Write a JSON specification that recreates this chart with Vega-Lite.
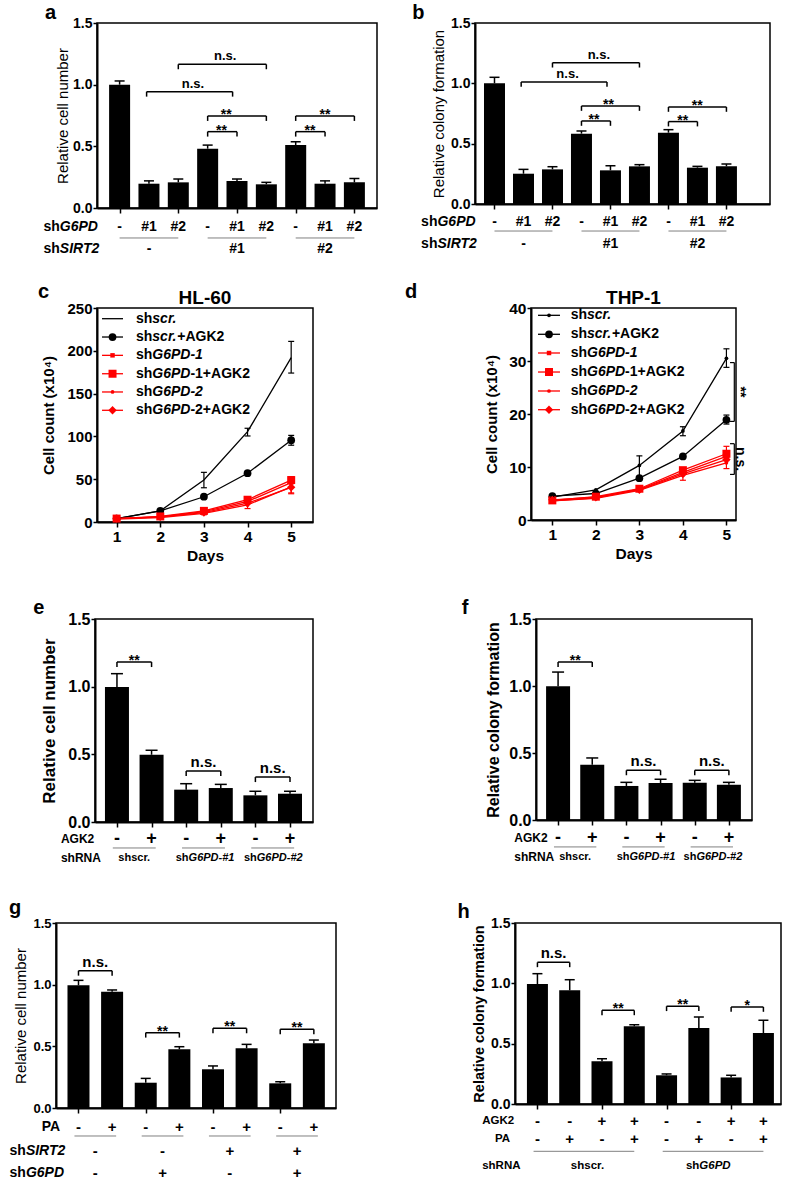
{
"$schema": "https://vega.github.io/schema/vega-lite/v6.json",
"padding": 0,
"autosize": {"type": "pad"},
"config": {
 "view": {"stroke": null},
 "font": "Liberation Sans",
 "axis": {"grid": false, "domainColor": "#000", "domainWidth": 2, "tickColor": "#000", "tickWidth": 1.5, "tickSize": 4, "labelColor": "#000", "labelFontWeight": "bold", "labelFont": "Liberation Sans", "labelPadding": 1, "labelFlush": false, "titleColor": "#000", "titleFont": "Liberation Sans"},
 "title": {"font": "Liberation Sans", "color": "#000"},
 "text": {"color": "#000"}
},
"datasets": {
 "a_bar": [{"x":1,"v":1.0,"hi":1.03},{"x":2,"v":0.197,"hi":0.22},{"x":3,"v":0.208,"hi":0.235},{"x":4,"v":0.481,"hi":0.51},{"x":5,"v":0.219,"hi":0.235},{"x":6,"v":0.192,"hi":0.208},{"x":7,"v":0.511,"hi":0.537},{"x":8,"v":0.197,"hi":0.22},{"x":9,"v":0.208,"hi":0.24}],
 "a_br": [{"x1":1.92,"x2":4.85,"xm":3.5,"y":0.943,"y0":0.903,"t":"n.s."},{"x1":3,"x2":6,"xm":4.6,"y":1.165,"y0":1.125,"t":"n.s."},{"x1":4,"x2":6,"xm":4.63,"y":0.746,"y0":0.706,"t":"**"},{"x1":4,"x2":5,"xm":4.47,"y":0.619,"y0":0.579,"t":"**"},{"x1":7,"x2":9,"xm":8,"y":0.746,"y0":0.706,"t":"**"},{"x1":7,"x2":8,"xm":7.49,"y":0.619,"y0":0.579,"t":"**"}],
 "a_ul": [{"x1":1,"x2":3,"y":-0.243},{"x1":4,"x2":6,"y":-0.243},{"x1":7,"x2":9,"y":-0.243}],
 "a_txt": [{"g":"sym","x":1,"y":-0.154,"t":"-"},{"g":"sym","x":2,"y":-0.154,"t":"#1"},{"g":"sym","x":3,"y":-0.154,"t":"#2"},{"g":"sym","x":4,"y":-0.154,"t":"-"},{"g":"sym","x":5,"y":-0.154,"t":"#1"},{"g":"sym","x":6,"y":-0.154,"t":"#2"},{"g":"sym","x":7,"y":-0.154,"t":"-"},{"g":"sym","x":8,"y":-0.154,"t":"#1"},{"g":"sym","x":9,"y":-0.154,"t":"#2"},{"g":"sym","x":2,"y":-0.333,"t":"-"},{"g":"sym","x":5,"y":-0.333,"t":"#1"},{"g":"sym","x":8,"y":-0.333,"t":"#2"},{"g":"sh","x":-1.036,"y":-0.154,"t":"sh"},{"g":"gene","x":-1.036,"y":-0.154,"t":"G6PD"},{"g":"sh","x":-1.036,"y":-0.333,"t":"sh"},{"g":"gene","x":-1.036,"y":-0.333,"t":"SIRT2"},{"g":"letter","x":-1.539,"y":1.532,"t":"a"}],
 "b_bar": [{"x":1,"v":1.0,"hi":1.05},{"x":2,"v":0.251,"hi":0.287},{"x":3,"v":0.287,"hi":0.309},{"x":4,"v":0.583,"hi":0.605},{"x":5,"v":0.279,"hi":0.317},{"x":6,"v":0.312,"hi":0.326},{"x":7,"v":0.591,"hi":0.616},{"x":8,"v":0.301,"hi":0.312},{"x":9,"v":0.312,"hi":0.331}],
 "b_br": [{"x1":1.92,"x2":4.88,"xm":3.52,"y":1.011,"y0":0.971,"t":"n.s."},{"x1":3,"x2":6,"xm":4.6,"y":1.171,"y0":1.131,"t":"n.s."},{"x1":4,"x2":6,"xm":4.93,"y":0.812,"y0":0.772,"t":"**"},{"x1":4,"x2":5,"xm":4.43,"y":0.688,"y0":0.648,"t":"**"},{"x1":7,"x2":9,"xm":7.99,"y":0.804,"y0":0.764,"t":"**"},{"x1":7,"x2":8,"xm":7.49,"y":0.683,"y0":0.643,"t":"**"}],
 "b_ul": [{"x1":1,"x2":3,"y":-0.224},{"x1":4,"x2":6,"y":-0.224},{"x1":7,"x2":9,"y":-0.224}],
 "b_txt": [{"g":"sym","x":1,"y":-0.147,"t":"-"},{"g":"sym","x":2,"y":-0.147,"t":"#1"},{"g":"sym","x":3,"y":-0.147,"t":"#2"},{"g":"sym","x":4,"y":-0.147,"t":"-"},{"g":"sym","x":5,"y":-0.147,"t":"#1"},{"g":"sym","x":6,"y":-0.147,"t":"#2"},{"g":"sym","x":7,"y":-0.147,"t":"-"},{"g":"sym","x":8,"y":-0.147,"t":"#1"},{"g":"sym","x":9,"y":-0.147,"t":"#2"},{"g":"sym","x":2,"y":-0.329,"t":"-"},{"g":"sym","x":5,"y":-0.329,"t":"#1"},{"g":"sym","x":8,"y":-0.329,"t":"#2"},{"g":"sh","x":-0.967,"y":-0.147,"t":"sh"},{"g":"gene","x":-0.967,"y":-0.147,"t":"G6PD"},{"g":"sh","x":-0.967,"y":-0.329,"t":"sh"},{"g":"gene","x":-0.967,"y":-0.329,"t":"SIRT2"},{"g":"letter","x":-1.833,"y":1.533,"t":"b"}],
 "c_ln": [{"s":"shscr.","day":1,"v":4},{"s":"shscr.","day":2,"v":13},{"s":"shscr.","day":3,"v":49,"lo":40,"hi":58},{"s":"shscr.","day":4,"v":105.5,"lo":100.5,"hi":109.5},{"s":"shscr.","day":5,"v":192,"lo":174,"hi":211},
  {"s":"shscr.+AGK2","day":1,"v":4},{"s":"shscr.+AGK2","day":2,"v":13},{"s":"shscr.+AGK2","day":3,"v":29.5},{"s":"shscr.+AGK2","day":4,"v":57},{"s":"shscr.+AGK2","day":5,"v":95.6,"lo":89.7,"hi":101.2},
  {"s":"shG6PD-1","day":1,"v":4},{"s":"shG6PD-1","day":2,"v":6},{"s":"shG6PD-1","day":3,"v":12},{"s":"shG6PD-1","day":4,"v":24},{"s":"shG6PD-1","day":5,"v":46},
  {"s":"shG6PD-1+AGK2","day":1,"v":4},{"s":"shG6PD-1+AGK2","day":2,"v":6.5},{"s":"shG6PD-1+AGK2","day":3,"v":13},{"s":"shG6PD-1+AGK2","day":4,"v":26},{"s":"shG6PD-1+AGK2","day":5,"v":49,"lo":45,"hi":53},
  {"s":"shG6PD-2","day":1,"v":3.5},{"s":"shG6PD-2","day":2,"v":5},{"s":"shG6PD-2","day":3,"v":10,"lo":8.5,"hi":11.5},{"s":"shG6PD-2","day":4,"v":20,"lo":15.7,"hi":24},{"s":"shG6PD-2","day":5,"v":41,"lo":34,"hi":47},
  {"s":"shG6PD-2+AGK2","day":1,"v":4},{"s":"shG6PD-2+AGK2","day":2,"v":6},{"s":"shG6PD-2+AGK2","day":3,"v":11},{"s":"shG6PD-2+AGK2","day":4,"v":22},{"s":"shG6PD-2+AGK2","day":5,"v":40.5,"lo":33,"hi":46}],
 "c_leg": [{"s":"shscr.","y":237.5,"ital":"scr.","post":""},{"s":"shscr.+AGK2","y":216.1,"ital":"scr.","post":"+AGK2"},{"s":"shG6PD-1","y":194.7,"ital":"G6PD-1","post":""},{"s":"shG6PD-1+AGK2","y":173.2,"ital":"G6PD","post":"-1+AGK2"},{"s":"shG6PD-2","y":151.9,"ital":"G6PD-2","post":""},{"s":"shG6PD-2+AGK2","y":130.5,"ital":"G6PD","post":"-2+AGK2"}],
 "c_lab": [{"x":-0.802,"y":261.7,"t":"c","k":"letter"},{"x":3.025,"y":261.7,"t":"HL-60","k":"title"}],
 "d_ln": [{"s":"shscr.","day":1,"v":4.3},{"s":"shscr.","day":2,"v":5.7},{"s":"shscr.","day":3,"v":10.3,"lo":8.1,"hi":12.1},{"s":"shscr.","day":4,"v":16.8,"lo":15.9,"hi":17.6},{"s":"shscr.","day":5,"v":30.5,"lo":28.8,"hi":32.3},
  {"s":"shscr.+AGK2","day":1,"v":4.5},{"s":"shscr.+AGK2","day":2,"v":5.0},{"s":"shscr.+AGK2","day":3,"v":7.9},{"s":"shscr.+AGK2","day":4,"v":12.0},{"s":"shscr.+AGK2","day":5,"v":18.9,"lo":18.1,"hi":19.8},
  {"s":"shG6PD-1","day":1,"v":3.6},{"s":"shG6PD-1","day":2,"v":4.2},{"s":"shG6PD-1","day":3,"v":5.8},{"s":"shG6PD-1","day":4,"v":9.0},{"s":"shG6PD-1","day":5,"v":12.0},
  {"s":"shG6PD-1+AGK2","day":1,"v":3.7},{"s":"shG6PD-1+AGK2","day":2,"v":4.4},{"s":"shG6PD-1+AGK2","day":3,"v":5.9},{"s":"shG6PD-1+AGK2","day":4,"v":9.4},{"s":"shG6PD-1+AGK2","day":5,"v":12.5,"lo":11.2,"hi":13.9},
  {"s":"shG6PD-2","day":1,"v":3.6},{"s":"shG6PD-2","day":2,"v":4.1},{"s":"shG6PD-2","day":3,"v":5.6},{"s":"shG6PD-2","day":4,"v":8.4,"lo":7.5,"hi":9.2},{"s":"shG6PD-2","day":5,"v":10.8,"lo":9.7,"hi":11.8},
  {"s":"shG6PD-2+AGK2","day":1,"v":3.8},{"s":"shG6PD-2+AGK2","day":2,"v":4.3},{"s":"shG6PD-2+AGK2","day":3,"v":5.7},{"s":"shG6PD-2+AGK2","day":4,"v":8.7},{"s":"shG6PD-2+AGK2","day":5,"v":11.4}],
 "d_leg": [{"s":"shscr.","y":38.62,"ital":"scr.","post":""},{"s":"shscr.+AGK2","y":35.04,"ital":"scr.","post":"+AGK2"},{"s":"shG6PD-1","y":31.51,"ital":"G6PD-1","post":""},{"s":"shG6PD-1+AGK2","y":27.92,"ital":"G6PD","post":"-1+AGK2"},{"s":"shG6PD-2","y":24.34,"ital":"G6PD-2","post":""},{"s":"shG6PD-2+AGK2","y":20.81,"ital":"G6PD","post":"-2+AGK2"}],
 "d_lab": [{"x":-2.385,"y":41.89,"t":"d","k":"letter"},{"x":2.865,"y":41.89,"t":"THP-1","k":"title"}],
 "d_sig": [{"x":5.181,"xl":5.083,"xt":5.31,"y1":29.7,"y2":18.6,"ym":24.15,"t":"**"},{"x":5.181,"xl":5.083,"xt":5.31,"y1":14.4,"y2":8.6,"ym":11.5,"t":"n.s."}],
 "e_bar": [{"x":1,"v":0.998,"hi":1.096},{"x":2,"v":0.497,"hi":0.53},{"x":3,"v":0.239,"hi":0.283},{"x":4,"v":0.251,"hi":0.278},{"x":5,"v":0.197,"hi":0.227},{"x":6,"v":0.209,"hi":0.227}],
 "e_br": [{"x1":1,"x2":2,"xm":1.5,"y":1.182,"y0":1.145,"t":"**"},{"x1":3,"x2":4,"xm":3.5,"y":0.377,"y0":0.34,"t":"n.s."},{"x1":5,"x2":6,"xm":5.5,"y":0.332,"y0":0.295,"t":"n.s."}],
 "e_ul": [{"x1":0.88,"x2":2.12,"y":-0.192},{"x1":2.88,"x2":4.12,"y":-0.192},{"x1":4.88,"x2":6.12,"y":-0.192}],
 "e_txt": [{"g":"sym","x":1,"y":-0.123,"t":"-"},{"g":"sym","x":2,"y":-0.123,"t":"+"},{"g":"sym","x":3,"y":-0.123,"t":"-"},{"g":"sym","x":4,"y":-0.123,"t":"+"},{"g":"sym","x":5,"y":-0.123,"t":"-"},{"g":"sym","x":6,"y":-0.123,"t":"+"},{"g":"name","x":-0.62,"y":-0.123,"t":"AGK2"},{"g":"name","x":-0.62,"y":-0.266,"t":"shRNA"},{"g":"grp","x":1.5,"y":-0.266,"t":"shscr."},{"g":"sh","x":3.07,"y":-0.266,"t":"sh"},{"g":"gene","x":3.07,"y":-0.266,"t":"G6PD-#1"},{"g":"sh","x":5.04,"y":-0.266,"t":"sh"},{"g":"gene","x":5.04,"y":-0.266,"t":"G6PD-#2"},{"g":"letter","x":-1.42,"y":1.537,"t":"e"}],
 "f_bar": [{"x":1,"v":0.998,"hi":1.104},{"x":2,"v":0.413,"hi":0.463},{"x":3,"v":0.254,"hi":0.281},{"x":4,"v":0.276,"hi":0.304},{"x":5,"v":0.278,"hi":0.296},{"x":6,"v":0.263,"hi":0.281}],
 "f_br": [{"x1":1,"x2":2,"xm":1.5,"y":1.179,"y0":1.142,"t":"**"},{"x1":3,"x2":4,"xm":3.5,"y":0.371,"y0":0.334,"t":"n.s."},{"x1":5,"x2":6,"xm":5.5,"y":0.371,"y0":0.334,"t":"n.s."}],
 "f_ul": [{"x1":0.88,"x2":2.12,"y":-0.201},{"x1":2.88,"x2":4.12,"y":-0.201},{"x1":4.88,"x2":6.12,"y":-0.201}],
 "f_txt": [{"g":"sym","x":1,"y":-0.134,"t":"-"},{"g":"sym","x":2,"y":-0.134,"t":"+"},{"g":"sym","x":3,"y":-0.134,"t":"-"},{"g":"sym","x":4,"y":-0.134,"t":"+"},{"g":"sym","x":5,"y":-0.134,"t":"-"},{"g":"sym","x":6,"y":-0.134,"t":"+"},{"g":"name","x":-0.282,"y":-0.134,"t":"AGK2"},{"g":"name","x":-0.282,"y":-0.276,"t":"shRNA"},{"g":"grp","x":1.5,"y":-0.276,"t":"shscr."},{"g":"sh","x":3.09,"y":-0.276,"t":"sh"},{"g":"gene","x":3.09,"y":-0.276,"t":"G6PD-#1"},{"g":"sh","x":5.05,"y":-0.276,"t":"sh"},{"g":"gene","x":5.05,"y":-0.276,"t":"G6PD-#2"},{"g":"letter","x":-1.817,"y":1.537,"t":"f"}],
 "g_bar": [{"x":1,"v":0.995,"hi":1.035},{"x":2,"v":0.943,"hi":0.957},{"x":3,"v":0.205,"hi":0.24},{"x":4,"v":0.476,"hi":0.497},{"x":5,"v":0.314,"hi":0.341},{"x":6,"v":0.484,"hi":0.516},{"x":7,"v":0.2,"hi":0.213},{"x":8,"v":0.525,"hi":0.551}],
 "g_br": [{"x1":1,"x2":2,"xm":1.5,"y":1.113,"y0":1.073,"t":"n.s."},{"x1":3,"x2":4,"xm":3.5,"y":0.611,"y0":0.571,"t":"**"},{"x1":5,"x2":6,"xm":5.5,"y":0.646,"y0":0.606,"t":"**"},{"x1":7,"x2":8,"xm":7.5,"y":0.638,"y0":0.598,"t":"**"}],
 "g_ul": [{"x1":0.88,"x2":2.12,"y":-0.227},{"x1":2.88,"x2":4.12,"y":-0.227},{"x1":4.88,"x2":6.12,"y":-0.227},{"x1":6.88,"x2":8.12,"y":-0.227}],
 "g_txt": [{"g":"sym","x":1,"y":-0.152,"t":"-"},{"g":"sym","x":2,"y":-0.152,"t":"+"},{"g":"sym","x":3,"y":-0.152,"t":"-"},{"g":"sym","x":4,"y":-0.152,"t":"+"},{"g":"sym","x":5,"y":-0.152,"t":"-"},{"g":"sym","x":6,"y":-0.152,"t":"+"},{"g":"sym","x":7,"y":-0.152,"t":"-"},{"g":"sym","x":8,"y":-0.152,"t":"+"},{"g":"sym","x":1.5,"y":-0.349,"t":"-"},{"g":"sym","x":3.5,"y":-0.349,"t":"-"},{"g":"sym","x":5.5,"y":-0.349,"t":"+"},{"g":"sym","x":7.5,"y":-0.349,"t":"+"},{"g":"sym","x":1.5,"y":-0.525,"t":"-"},{"g":"sym","x":3.5,"y":-0.525,"t":"+"},{"g":"sym","x":5.5,"y":-0.525,"t":"-"},{"g":"sym","x":7.5,"y":-0.525,"t":"+"},{"g":"name","x":-0.094,"y":-0.152,"t":"PA"},{"g":"sh","x":-0.564,"y":-0.349,"t":"sh"},{"g":"gene","x":-0.564,"y":-0.349,"t":"SIRT2"},{"g":"sh","x":-0.564,"y":-0.525,"t":"sh"},{"g":"gene","x":-0.564,"y":-0.525,"t":"G6PD"},{"g":"letter","x":-1.069,"y":1.573,"t":"g"}],
 "h_bar": [{"x":1,"v":0.994,"hi":1.08},{"x":2,"v":0.942,"hi":1.03},{"x":3,"v":0.354,"hi":0.375},{"x":4,"v":0.644,"hi":0.657},{"x":5,"v":0.238,"hi":0.249},{"x":6,"v":0.63,"hi":0.721},{"x":7,"v":0.22,"hi":0.238},{"x":8,"v":0.588,"hi":0.694}],
 "h_br": [{"x1":1,"x2":2,"xm":1.5,"y":1.174,"y0":1.134,"t":"n.s."},{"x1":3,"x2":4,"xm":3.5,"y":0.776,"y0":0.736,"t":"**"},{"x1":5,"x2":6,"xm":5.5,"y":0.81,"y0":0.77,"t":"**"},{"x1":7,"x2":8,"xm":7.5,"y":0.804,"y0":0.764,"t":"*"}],
 "h_ul": [{"x1":0.88,"x2":4.0,"y":-0.392},{"x1":4.88,"x2":8.0,"y":-0.392}],
 "h_txt": [{"g":"sym","x":1,"y":-0.143,"t":"-"},{"g":"sym","x":2,"y":-0.143,"t":"-"},{"g":"sym","x":3,"y":-0.143,"t":"+"},{"g":"sym","x":4,"y":-0.143,"t":"+"},{"g":"sym","x":5,"y":-0.143,"t":"-"},{"g":"sym","x":6,"y":-0.143,"t":"-"},{"g":"sym","x":7,"y":-0.143,"t":"+"},{"g":"sym","x":8,"y":-0.143,"t":"+"},{"g":"sym","x":1,"y":-0.29,"t":"-"},{"g":"sym","x":2,"y":-0.29,"t":"+"},{"g":"sym","x":3,"y":-0.29,"t":"-"},{"g":"sym","x":4,"y":-0.29,"t":"+"},{"g":"sym","x":5,"y":-0.29,"t":"-"},{"g":"sym","x":6,"y":-0.29,"t":"+"},{"g":"sym","x":7,"y":-0.29,"t":"-"},{"g":"sym","x":8,"y":-0.29,"t":"+"},{"g":"name","x":-0.712,"y":-0.143,"t":"AGK2"},{"g":"name","x":-0.315,"y":-0.29,"t":"PA"},{"g":"name","x":-0.712,"y":-0.516,"t":"shRNA"},{"g":"grp","x":2.55,"y":-0.516,"t":"shscr."},{"g":"sh","x":6.015,"y":-0.516,"t":"sh"},{"g":"gene","x":6.015,"y":-0.516,"t":"G6PD"},{"g":"letter","x":-1.478,"y":1.541,"t":"h"}]
},
"spacing": 0,
"bounds": "full",
"vconcat": [
 {"spacing": 0, "bounds": "flush", "hconcat": [
  {"width":97,"height":254,"data":{"values":[{}]},"mark":{"type":"point","size":0,"opacity":0},"encoding":{"y":{"datum":276,"type":"quantitative","scale":{"domain":[0,254],"nice":false},"axis":null}}},
  {"width":280,"height":185,"view":{"stroke":"#000","strokeWidth":1.5},"layer":[
   {"data":{"name":"a_bar"},"mark":{"type":"bar","width":21,"color":"#000"},"encoding":{"x":{"field":"x","type":"quantitative","scale":{"domain":[0.4,9.6],"nice":false,"zero":false},"axis":{"values":[1,2,3,4,5,6,7,8,9],"labels":false,"title":null,"tickSize":5}},"y":{"field":"v","type":"quantitative","scale":{"domain":[0,1.5],"nice":false},"axis":{"values":[0,0.5,1,1.5],"format":".1f","labelFontSize":14,"title":"Relative cell number","titleFontSize":15,"titleFontWeight":"normal","titlePadding":2}}}},
   {"data":{"name":"a_bar"},"mark":{"type":"rule","color":"#000","strokeWidth":1.5},"encoding":{"x":{"field":"x","type":"quantitative"},"y":{"field":"v","type":"quantitative"},"y2":{"field":"hi"}}},
   {"data":{"name":"a_bar"},"mark":{"type":"tick","orient":"horizontal","size":10,"thickness":1.5,"color":"#000","opacity":1},"encoding":{"x":{"field":"x","type":"quantitative"},"y":{"field":"hi","type":"quantitative"}}},
   {"data":{"name":"a_br"},"mark":{"type":"rule","color":"#000","strokeWidth":1.5},"encoding":{"x":{"field":"x1","type":"quantitative"},"x2":{"field":"x2"},"y":{"field":"y","type":"quantitative"}}},
   {"data":{"name":"a_br"},"mark":{"type":"rule","color":"#000","strokeWidth":1.5},"encoding":{"x":{"field":"x1","type":"quantitative"},"y":{"field":"y","type":"quantitative"},"y2":{"field":"y0"}}},
   {"data":{"name":"a_br"},"mark":{"type":"rule","color":"#000","strokeWidth":1.5},"encoding":{"x":{"field":"x2","type":"quantitative"},"y":{"field":"y","type":"quantitative"},"y2":{"field":"y0"}}},
   {"data":{"name":"a_br"},"transform":[{"filter":"datum.t == 'n.s.'"}],"mark":{"type":"text","fontWeight":"bold","fontSize":13,"baseline":"alphabetic","dy":-4},"encoding":{"x":{"field":"xm","type":"quantitative"},"y":{"field":"y","type":"quantitative"},"text":{"field":"t"}}},
   {"data":{"name":"a_br"},"transform":[{"filter":"datum.t != 'n.s.'"}],"mark":{"type":"text","fontWeight":"bold","fontSize":14,"baseline":"alphabetic","dy":3},"encoding":{"x":{"field":"xm","type":"quantitative"},"y":{"field":"y","type":"quantitative"},"text":{"field":"t"}}},
   {"data":{"name":"a_ul"},"mark":{"type":"rule","color":"#808080","strokeWidth":1},"encoding":{"x":{"field":"x1","type":"quantitative"},"x2":{"field":"x2"},"y":{"field":"y","type":"quantitative"}}},
   {"data":{"name":"a_txt"},"transform":[{"filter":"datum.g == 'sym'"}],"mark":{"type":"text","fontWeight":"bold","fontSize":14,"align":"center","baseline":"middle"},"encoding":{"x":{"field":"x","type":"quantitative"},"y":{"field":"y","type":"quantitative"},"text":{"field":"t"}}},
   {"data":{"name":"a_txt"},"transform":[{"filter":"datum.g == 'sh'"}],"mark":{"type":"text","fontWeight":"bold","fontSize":14,"align":"right","baseline":"middle"},"encoding":{"x":{"field":"x","type":"quantitative"},"y":{"field":"y","type":"quantitative"},"text":{"field":"t"}}},
   {"data":{"name":"a_txt"},"transform":[{"filter":"datum.g == 'gene'"}],"mark":{"type":"text","fontWeight":"bold","fontStyle":"italic","fontSize":14,"align":"left","baseline":"middle"},"encoding":{"x":{"field":"x","type":"quantitative"},"y":{"field":"y","type":"quantitative"},"text":{"field":"t"}}},
   {"data":{"name":"a_txt"},"transform":[{"filter":"datum.g == 'letter'"}],"mark":{"type":"text","fontWeight":"bold","fontSize":20,"align":"left","baseline":"alphabetic"},"encoding":{"x":{"field":"x","type":"quantitative"},"y":{"field":"y","type":"quantitative"},"text":{"field":"t"}}}
  ]},
  {"width":98,"height":1,"data":{"values":[{}]},"mark":{"type":"point","size":0,"opacity":0}},
  {"width":295,"height":181,"view":{"stroke":"#000","strokeWidth":1.5},"layer":[
   {"data":{"name":"b_bar"},"mark":{"type":"bar","width":21,"color":"#000"},"encoding":{"x":{"field":"x","type":"quantitative","scale":{"domain":[0.5,10.33],"nice":false,"zero":false},"axis":{"values":[1,2,3,4,5,6,7,8,9],"labels":false,"title":null,"tickSize":5}},"y":{"field":"v","type":"quantitative","scale":{"domain":[0,1.5],"nice":false},"axis":{"values":[0,0.5,1,1.5],"format":".1f","labelFontSize":14,"title":"Relative colony formation","titleFontSize":15,"titleFontWeight":"normal","titlePadding":4}}}},
   {"data":{"name":"b_bar"},"mark":{"type":"rule","color":"#000","strokeWidth":1.5},"encoding":{"x":{"field":"x","type":"quantitative"},"y":{"field":"v","type":"quantitative"},"y2":{"field":"hi"}}},
   {"data":{"name":"b_bar"},"mark":{"type":"tick","orient":"horizontal","size":10,"thickness":1.5,"color":"#000","opacity":1},"encoding":{"x":{"field":"x","type":"quantitative"},"y":{"field":"hi","type":"quantitative"}}},
   {"data":{"name":"b_br"},"mark":{"type":"rule","color":"#000","strokeWidth":1.5},"encoding":{"x":{"field":"x1","type":"quantitative"},"x2":{"field":"x2"},"y":{"field":"y","type":"quantitative"}}},
   {"data":{"name":"b_br"},"mark":{"type":"rule","color":"#000","strokeWidth":1.5},"encoding":{"x":{"field":"x1","type":"quantitative"},"y":{"field":"y","type":"quantitative"},"y2":{"field":"y0"}}},
   {"data":{"name":"b_br"},"mark":{"type":"rule","color":"#000","strokeWidth":1.5},"encoding":{"x":{"field":"x2","type":"quantitative"},"y":{"field":"y","type":"quantitative"},"y2":{"field":"y0"}}},
   {"data":{"name":"b_br"},"transform":[{"filter":"datum.t == 'n.s.'"}],"mark":{"type":"text","fontWeight":"bold","fontSize":13,"baseline":"alphabetic","dy":-4},"encoding":{"x":{"field":"xm","type":"quantitative"},"y":{"field":"y","type":"quantitative"},"text":{"field":"t"}}},
   {"data":{"name":"b_br"},"transform":[{"filter":"datum.t != 'n.s.'"}],"mark":{"type":"text","fontWeight":"bold","fontSize":14,"baseline":"alphabetic","dy":3},"encoding":{"x":{"field":"xm","type":"quantitative"},"y":{"field":"y","type":"quantitative"},"text":{"field":"t"}}},
   {"data":{"name":"b_ul"},"mark":{"type":"rule","color":"#808080","strokeWidth":1},"encoding":{"x":{"field":"x1","type":"quantitative"},"x2":{"field":"x2"},"y":{"field":"y","type":"quantitative"}}},
   {"data":{"name":"b_txt"},"transform":[{"filter":"datum.g == 'sym'"}],"mark":{"type":"text","fontWeight":"bold","fontSize":14,"align":"center","baseline":"middle"},"encoding":{"x":{"field":"x","type":"quantitative"},"y":{"field":"y","type":"quantitative"},"text":{"field":"t"}}},
   {"data":{"name":"b_txt"},"transform":[{"filter":"datum.g == 'sh'"}],"mark":{"type":"text","fontWeight":"bold","fontSize":14,"align":"right","baseline":"middle"},"encoding":{"x":{"field":"x","type":"quantitative"},"y":{"field":"y","type":"quantitative"},"text":{"field":"t"}}},
   {"data":{"name":"b_txt"},"transform":[{"filter":"datum.g == 'gene'"}],"mark":{"type":"text","fontWeight":"bold","fontStyle":"italic","fontSize":14,"align":"left","baseline":"middle"},"encoding":{"x":{"field":"x","type":"quantitative"},"y":{"field":"y","type":"quantitative"},"text":{"field":"t"}}},
   {"data":{"name":"b_txt"},"transform":[{"filter":"datum.g == 'letter'"}],"mark":{"type":"text","fontWeight":"bold","fontSize":20,"align":"left","baseline":"alphabetic"},"encoding":{"x":{"field":"x","type":"quantitative"},"y":{"field":"y","type":"quantitative"},"text":{"field":"t"}}}
  ]}
 ]},
 {"spacing": 0, "bounds": "flush", "hconcat": [
  {"width":97,"height":281,"data":{"values":[{}]},"mark":{"type":"point","size":0,"opacity":0},"encoding":{"y":{"datum":311,"type":"quantitative","scale":{"domain":[0,281],"nice":false},"axis":null}}},
  {"width":216,"height":214,"view":{"stroke":"#000","strokeWidth":1.5},"layer":[
   {"data":{"name":"c_ln"},"mark":{"type":"line","strokeWidth":1.3},"encoding":{"x":{"field":"day","type":"quantitative","scale":{"domain":[0.55,5.5],"nice":false,"zero":false},"axis":{"values":[1,2,3,4,5],"labelFontSize":15.5,"labelPadding":2,"title":"Days","titleFontSize":15.5,"titleFontWeight":"bold","titlePadding":4,"tickSize":5}},"y":{"field":"v","type":"quantitative","scale":{"domain":[0,250],"nice":false},"axis":{"values":[0,50,100,150,200,250],"labelFontSize":15,"title":"Cell count (x10⁴)","titleFontSize":15,"titleFontWeight":"bold","titlePadding":10}},"color":{"field":"s","type":"nominal","scale":{"domain":["shscr.","shscr.+AGK2","shG6PD-1","shG6PD-1+AGK2","shG6PD-2","shG6PD-2+AGK2"],"range":["#000000","#000000","#ff0000","#ff0000","#ff0000","#ff0000"]},"legend":null}}},
   {"data":{"name":"c_ln"},"transform":[{"filter":"isValid(datum.hi)"}],"mark":{"type":"rule","strokeWidth":1.2},"encoding":{"x":{"field":"day","type":"quantitative"},"y":{"field":"lo","type":"quantitative"},"y2":{"field":"hi"},"color":{"field":"s","type":"nominal"}}},
   {"data":{"name":"c_ln"},"transform":[{"filter":"isValid(datum.hi)"}],"mark":{"type":"tick","orient":"horizontal","size":6,"thickness":1.2,"opacity":1},"encoding":{"x":{"field":"day","type":"quantitative"},"y":{"field":"hi","type":"quantitative"},"color":{"field":"s","type":"nominal"}}},
   {"data":{"name":"c_ln"},"transform":[{"filter":"isValid(datum.hi)"}],"mark":{"type":"tick","orient":"horizontal","size":6,"thickness":1.2,"opacity":1},"encoding":{"x":{"field":"day","type":"quantitative"},"y":{"field":"lo","type":"quantitative"},"color":{"field":"s","type":"nominal"}}},
   {"data":{"name":"c_ln"},"transform":[{"filter":"datum.s == 'shscr.+AGK2'"}],"mark":{"type":"point","shape":"circle","filled":true,"opacity":1,"size":60},"encoding":{"x":{"field":"day","type":"quantitative"},"y":{"field":"v","type":"quantitative"},"color":{"field":"s","type":"nominal"}}},
   {"data":{"name":"c_ln"},"transform":[{"filter":"datum.s == 'shG6PD-1'"}],"mark":{"type":"point","shape":"square","filled":true,"opacity":1,"size":20},"encoding":{"x":{"field":"day","type":"quantitative"},"y":{"field":"v","type":"quantitative"},"color":{"field":"s","type":"nominal"}}},
   {"data":{"name":"c_ln"},"transform":[{"filter":"datum.s == 'shG6PD-1+AGK2'"}],"mark":{"type":"point","shape":"square","filled":true,"opacity":1,"size":64},"encoding":{"x":{"field":"day","type":"quantitative"},"y":{"field":"v","type":"quantitative"},"color":{"field":"s","type":"nominal"}}},
   {"data":{"name":"c_ln"},"transform":[{"filter":"datum.s == 'shG6PD-2'"}],"mark":{"type":"point","shape":"circle","filled":true,"opacity":1,"size":14},"encoding":{"x":{"field":"day","type":"quantitative"},"y":{"field":"v","type":"quantitative"},"color":{"field":"s","type":"nominal"}}},
   {"data":{"name":"c_ln"},"transform":[{"filter":"datum.s == 'shG6PD-2+AGK2'"}],"mark":{"type":"point","shape":"diamond","filled":true,"opacity":1,"size":70},"encoding":{"x":{"field":"day","type":"quantitative"},"y":{"field":"v","type":"quantitative"},"color":{"field":"s","type":"nominal"}}},
   {"data":{"name":"c_leg"},"mark":{"type":"rule","strokeWidth":1.3},"encoding":{"x":{"datum":0.665},"x2":{"datum":1.146},"y":{"field":"y","type":"quantitative"},"color":{"field":"s","type":"nominal"}}},
   {"data":{"name":"c_leg"},"transform":[{"filter":"datum.s == 'shscr.+AGK2'"}],"mark":{"type":"point","shape":"circle","filled":true,"opacity":1,"size":60},"encoding":{"x":{"datum":0.906},"y":{"field":"y","type":"quantitative"},"color":{"field":"s","type":"nominal"}}},
   {"data":{"name":"c_leg"},"transform":[{"filter":"datum.s == 'shG6PD-1'"}],"mark":{"type":"point","shape":"square","filled":true,"opacity":1,"size":20},"encoding":{"x":{"datum":0.906},"y":{"field":"y","type":"quantitative"},"color":{"field":"s","type":"nominal"}}},
   {"data":{"name":"c_leg"},"transform":[{"filter":"datum.s == 'shG6PD-1+AGK2'"}],"mark":{"type":"point","shape":"square","filled":true,"opacity":1,"size":64},"encoding":{"x":{"datum":0.906},"y":{"field":"y","type":"quantitative"},"color":{"field":"s","type":"nominal"}}},
   {"data":{"name":"c_leg"},"transform":[{"filter":"datum.s == 'shG6PD-2'"}],"mark":{"type":"point","shape":"circle","filled":true,"opacity":1,"size":14},"encoding":{"x":{"datum":0.906},"y":{"field":"y","type":"quantitative"},"color":{"field":"s","type":"nominal"}}},
   {"data":{"name":"c_leg"},"transform":[{"filter":"datum.s == 'shG6PD-2+AGK2'"}],"mark":{"type":"point","shape":"diamond","filled":true,"opacity":1,"size":70},"encoding":{"x":{"datum":0.906},"y":{"field":"y","type":"quantitative"},"color":{"field":"s","type":"nominal"}}},
   {"data":{"name":"c_leg"},"mark":{"type":"text","text":"sh","fontWeight":"bold","fontSize":14,"align":"left","baseline":"middle"},"encoding":{"x":{"datum":1.444},"y":{"field":"y","type":"quantitative"}}},
   {"data":{"name":"c_leg"},"mark":{"type":"text","fontWeight":"bold","fontStyle":"italic","fontSize":14,"align":"left","baseline":"middle","dx":16.3},"encoding":{"x":{"datum":1.444},"y":{"field":"y","type":"quantitative"},"text":{"field":"ital"}}},
   {"data":{"name":"c_leg"},"transform":[{"filter":"datum.ital == 'scr.' && datum.post != ''"}],"mark":{"type":"text","fontWeight":"bold","fontSize":14,"align":"left","baseline":"middle","dx":41.2},"encoding":{"x":{"datum":1.444},"y":{"field":"y","type":"quantitative"},"text":{"field":"post"}}},
   {"data":{"name":"c_leg"},"transform":[{"filter":"datum.ital == 'G6PD'"}],"mark":{"type":"text","fontWeight":"bold","fontSize":14,"align":"left","baseline":"middle","dx":54.4},"encoding":{"x":{"datum":1.444},"y":{"field":"y","type":"quantitative"},"text":{"field":"post"}}},
   {"data":{"name":"c_lab"},"transform":[{"filter":"datum.k == 'letter'"}],"mark":{"type":"text","fontWeight":"bold","fontSize":20,"align":"left","baseline":"alphabetic"},"encoding":{"x":{"field":"x","type":"quantitative"},"y":{"field":"y","type":"quantitative"},"text":{"field":"t"}}},
   {"data":{"name":"c_lab"},"transform":[{"filter":"datum.k == 'title'"}],"mark":{"type":"text","fontWeight":"bold","fontSize":19,"align":"center","baseline":"alphabetic","dy":6},"encoding":{"x":{"field":"x","type":"quantitative"},"y":{"field":"y","type":"quantitative"},"text":{"field":"t"}}}
  ]},
  {"width":218,"height":1,"data":{"values":[{}]},"mark":{"type":"point","size":0,"opacity":0}},
  {"width":205,"height":212,"view":{"stroke":"#000","strokeWidth":1.5},"layer":[
   {"data":{"name":"d_ln"},"mark":{"type":"line","strokeWidth":1.3},"encoding":{"x":{"field":"day","type":"quantitative","scale":{"domain":[0.51,5.22],"nice":false,"zero":false},"axis":{"values":[1,2,3,4,5],"labelFontSize":15.5,"labelPadding":2,"title":"Days","titleFontSize":15.5,"titleFontWeight":"bold","titlePadding":4,"tickSize":5}},"y":{"field":"v","type":"quantitative","scale":{"domain":[0,40],"nice":false},"axis":{"values":[0,10,20,30,40],"labelFontSize":15.5,"title":"Cell count (x10⁴)","titleFontSize":15,"titleFontWeight":"bold","titlePadding":9}},"color":{"field":"s","type":"nominal","scale":{"domain":["shscr.","shscr.+AGK2","shG6PD-1","shG6PD-1+AGK2","shG6PD-2","shG6PD-2+AGK2"],"range":["#000000","#000000","#ff0000","#ff0000","#ff0000","#ff0000"]},"legend":null}}},
   {"data":{"name":"d_ln"},"transform":[{"filter":"isValid(datum.hi)"}],"mark":{"type":"rule","strokeWidth":1.2},"encoding":{"x":{"field":"day","type":"quantitative"},"y":{"field":"lo","type":"quantitative"},"y2":{"field":"hi"},"color":{"field":"s","type":"nominal"}}},
   {"data":{"name":"d_ln"},"transform":[{"filter":"isValid(datum.hi)"}],"mark":{"type":"tick","orient":"horizontal","size":6,"thickness":1.2,"opacity":1},"encoding":{"x":{"field":"day","type":"quantitative"},"y":{"field":"hi","type":"quantitative"},"color":{"field":"s","type":"nominal"}}},
   {"data":{"name":"d_ln"},"transform":[{"filter":"isValid(datum.hi)"}],"mark":{"type":"tick","orient":"horizontal","size":6,"thickness":1.2,"opacity":1},"encoding":{"x":{"field":"day","type":"quantitative"},"y":{"field":"lo","type":"quantitative"},"color":{"field":"s","type":"nominal"}}},
   {"data":{"name":"d_ln"},"transform":[{"filter":"datum.s == 'shscr.+AGK2'"}],"mark":{"type":"point","shape":"circle","filled":true,"opacity":1,"size":60},"encoding":{"x":{"field":"day","type":"quantitative"},"y":{"field":"v","type":"quantitative"},"color":{"field":"s","type":"nominal"}}},
   {"data":{"name":"d_ln"},"transform":[{"filter":"datum.s == 'shG6PD-1'"}],"mark":{"type":"point","shape":"square","filled":true,"opacity":1,"size":20},"encoding":{"x":{"field":"day","type":"quantitative"},"y":{"field":"v","type":"quantitative"},"color":{"field":"s","type":"nominal"}}},
   {"data":{"name":"d_ln"},"transform":[{"filter":"datum.s == 'shG6PD-1+AGK2'"}],"mark":{"type":"point","shape":"square","filled":true,"opacity":1,"size":64},"encoding":{"x":{"field":"day","type":"quantitative"},"y":{"field":"v","type":"quantitative"},"color":{"field":"s","type":"nominal"}}},
   {"data":{"name":"d_ln"},"transform":[{"filter":"datum.s == 'shG6PD-2' || datum.s == 'shscr.'"}],"mark":{"type":"point","shape":"circle","filled":true,"opacity":1,"size":14},"encoding":{"x":{"field":"day","type":"quantitative"},"y":{"field":"v","type":"quantitative"},"color":{"field":"s","type":"nominal"}}},
   {"data":{"name":"d_ln"},"transform":[{"filter":"datum.s == 'shG6PD-2+AGK2'"}],"mark":{"type":"point","shape":"diamond","filled":true,"opacity":1,"size":70},"encoding":{"x":{"field":"day","type":"quantitative"},"y":{"field":"v","type":"quantitative"},"color":{"field":"s","type":"nominal"}}},
   {"data":{"name":"d_leg"},"mark":{"type":"rule","strokeWidth":1.3},"encoding":{"x":{"datum":0.671},"x2":{"datum":1.176},"y":{"field":"y","type":"quantitative"},"color":{"field":"s","type":"nominal"}}},
   {"data":{"name":"d_leg"},"transform":[{"filter":"datum.s == 'shscr.+AGK2'"}],"mark":{"type":"point","shape":"circle","filled":true,"opacity":1,"size":60},"encoding":{"x":{"datum":0.924},"y":{"field":"y","type":"quantitative"},"color":{"field":"s","type":"nominal"}}},
   {"data":{"name":"d_leg"},"transform":[{"filter":"datum.s == 'shG6PD-1'"}],"mark":{"type":"point","shape":"square","filled":true,"opacity":1,"size":20},"encoding":{"x":{"datum":0.924},"y":{"field":"y","type":"quantitative"},"color":{"field":"s","type":"nominal"}}},
   {"data":{"name":"d_leg"},"transform":[{"filter":"datum.s == 'shG6PD-1+AGK2'"}],"mark":{"type":"point","shape":"square","filled":true,"opacity":1,"size":64},"encoding":{"x":{"datum":0.924},"y":{"field":"y","type":"quantitative"},"color":{"field":"s","type":"nominal"}}},
   {"data":{"name":"d_leg"},"transform":[{"filter":"datum.s == 'shG6PD-2' || datum.s == 'shscr.'"}],"mark":{"type":"point","shape":"circle","filled":true,"opacity":1,"size":14},"encoding":{"x":{"datum":0.924},"y":{"field":"y","type":"quantitative"},"color":{"field":"s","type":"nominal"}}},
   {"data":{"name":"d_leg"},"transform":[{"filter":"datum.s == 'shG6PD-2+AGK2'"}],"mark":{"type":"point","shape":"diamond","filled":true,"opacity":1,"size":70},"encoding":{"x":{"datum":0.924},"y":{"field":"y","type":"quantitative"},"color":{"field":"s","type":"nominal"}}},
   {"data":{"name":"d_leg"},"mark":{"type":"text","text":"sh","fontWeight":"bold","fontSize":14,"align":"left","baseline":"middle"},"encoding":{"x":{"datum":1.422},"y":{"field":"y","type":"quantitative"}}},
   {"data":{"name":"d_leg"},"mark":{"type":"text","fontWeight":"bold","fontStyle":"italic","fontSize":14,"align":"left","baseline":"middle","dx":16.3},"encoding":{"x":{"datum":1.422},"y":{"field":"y","type":"quantitative"},"text":{"field":"ital"}}},
   {"data":{"name":"d_leg"},"transform":[{"filter":"datum.ital == 'scr.' && datum.post != ''"}],"mark":{"type":"text","fontWeight":"bold","fontSize":14,"align":"left","baseline":"middle","dx":41.2},"encoding":{"x":{"datum":1.422},"y":{"field":"y","type":"quantitative"},"text":{"field":"post"}}},
   {"data":{"name":"d_leg"},"transform":[{"filter":"datum.ital == 'G6PD'"}],"mark":{"type":"text","fontWeight":"bold","fontSize":14,"align":"left","baseline":"middle","dx":54.4},"encoding":{"x":{"datum":1.422},"y":{"field":"y","type":"quantitative"},"text":{"field":"post"}}},
   {"data":{"name":"d_sig"},"mark":{"type":"rule","color":"#000","strokeWidth":1.2},"encoding":{"x":{"field":"x","type":"quantitative"},"y":{"field":"y1","type":"quantitative"},"y2":{"field":"y2"}}},
   {"data":{"name":"d_sig"},"mark":{"type":"rule","color":"#000","strokeWidth":1.2},"encoding":{"x":{"field":"xl","type":"quantitative"},"x2":{"field":"x"},"y":{"field":"y1","type":"quantitative"}}},
   {"data":{"name":"d_sig"},"mark":{"type":"rule","color":"#000","strokeWidth":1.2},"encoding":{"x":{"field":"xl","type":"quantitative"},"x2":{"field":"x"},"y":{"field":"y2","type":"quantitative"}}},
   {"data":{"name":"d_sig"},"mark":{"type":"text","angle":90,"fontWeight":"bold","fontSize":14,"align":"center","baseline":"middle"},"encoding":{"x":{"field":"xt","type":"quantitative"},"y":{"field":"ym","type":"quantitative"},"text":{"field":"t"}}},
   {"data":{"name":"d_lab"},"transform":[{"filter":"datum.k == 'letter'"}],"mark":{"type":"text","fontWeight":"bold","fontSize":20,"align":"left","baseline":"alphabetic"},"encoding":{"x":{"field":"x","type":"quantitative"},"y":{"field":"y","type":"quantitative"},"text":{"field":"t"}}},
   {"data":{"name":"d_lab"},"transform":[{"filter":"datum.k == 'title'"}],"mark":{"type":"text","fontWeight":"bold","fontSize":19,"align":"center","baseline":"alphabetic","dy":6},"encoding":{"x":{"field":"x","type":"quantitative"},"y":{"field":"y","type":"quantitative"},"text":{"field":"t"}}}
  ]}
 ]},
 {"spacing": 0, "bounds": "flush", "hconcat": [
  {"width":95,"height":274,"data":{"values":[{}]},"mark":{"type":"point","size":0,"opacity":0},"encoding":{"y":{"datum":304,"type":"quantitative","scale":{"domain":[0,274],"nice":false},"axis":null}}},
  {"width":218,"height":203,"view":{"stroke":"#000","strokeWidth":1.5},"layer":[
   {"data":{"name":"e_bar"},"mark":{"type":"bar","width":24,"color":"#000"},"encoding":{"x":{"field":"x","type":"quantitative","scale":{"domain":[0.51,6.52],"nice":false,"zero":false},"axis":{"values":[1,2,3,4,5,6],"labels":false,"title":null,"tickSize":5}},"y":{"field":"v","type":"quantitative","scale":{"domain":[0,1.5],"nice":false},"axis":{"values":[0,0.5,1,1.5],"format":".1f","labelFontSize":16,"title":"Relative cell number","titleFontSize":17,"titleFontWeight":"bold","titlePadding":9}}}},
   {"data":{"name":"e_bar"},"mark":{"type":"rule","color":"#000","strokeWidth":1.5},"encoding":{"x":{"field":"x","type":"quantitative"},"y":{"field":"v","type":"quantitative"},"y2":{"field":"hi"}}},
   {"data":{"name":"e_bar"},"mark":{"type":"tick","orient":"horizontal","size":12,"thickness":1.5,"color":"#000","opacity":1},"encoding":{"x":{"field":"x","type":"quantitative"},"y":{"field":"hi","type":"quantitative"}}},
   {"data":{"name":"e_br"},"mark":{"type":"rule","color":"#000","strokeWidth":1.5},"encoding":{"x":{"field":"x1","type":"quantitative"},"x2":{"field":"x2"},"y":{"field":"y","type":"quantitative"}}},
   {"data":{"name":"e_br"},"mark":{"type":"rule","color":"#000","strokeWidth":1.5},"encoding":{"x":{"field":"x1","type":"quantitative"},"y":{"field":"y","type":"quantitative"},"y2":{"field":"y0"}}},
   {"data":{"name":"e_br"},"mark":{"type":"rule","color":"#000","strokeWidth":1.5},"encoding":{"x":{"field":"x2","type":"quantitative"},"y":{"field":"y","type":"quantitative"},"y2":{"field":"y0"}}},
   {"data":{"name":"e_br"},"transform":[{"filter":"datum.t == 'n.s.'"}],"mark":{"type":"text","fontWeight":"bold","fontSize":15,"baseline":"alphabetic","dy":-4},"encoding":{"x":{"field":"xm","type":"quantitative"},"y":{"field":"y","type":"quantitative"},"text":{"field":"t"}}},
   {"data":{"name":"e_br"},"transform":[{"filter":"datum.t != 'n.s.'"}],"mark":{"type":"text","fontWeight":"bold","fontSize":14,"baseline":"alphabetic","dy":3},"encoding":{"x":{"field":"xm","type":"quantitative"},"y":{"field":"y","type":"quantitative"},"text":{"field":"t"}}},
   {"data":{"name":"e_ul"},"mark":{"type":"rule","color":"#808080","strokeWidth":1},"encoding":{"x":{"field":"x1","type":"quantitative"},"x2":{"field":"x2"},"y":{"field":"y","type":"quantitative"}}},
   {"data":{"name":"e_txt"},"transform":[{"filter":"datum.g == 'sym'"}],"mark":{"type":"text","fontWeight":"bold","fontSize":18,"align":"center","baseline":"middle"},"encoding":{"x":{"field":"x","type":"quantitative"},"y":{"field":"y","type":"quantitative"},"text":{"field":"t"}}},
   {"data":{"name":"e_txt"},"transform":[{"filter":"datum.g == 'name'"}],"mark":{"type":"text","fontWeight":"bold","fontSize":12,"align":"left","baseline":"middle"},"encoding":{"x":{"field":"x","type":"quantitative"},"y":{"field":"y","type":"quantitative"},"text":{"field":"t"}}},
   {"data":{"name":"e_txt"},"transform":[{"filter":"datum.g == 'grp'"}],"mark":{"type":"text","fontWeight":"bold","fontSize":11,"align":"center","baseline":"middle"},"encoding":{"x":{"field":"x","type":"quantitative"},"y":{"field":"y","type":"quantitative"},"text":{"field":"t"}}},
   {"data":{"name":"e_txt"},"transform":[{"filter":"datum.g == 'sh'"}],"mark":{"type":"text","fontWeight":"bold","fontSize":11,"align":"right","baseline":"middle"},"encoding":{"x":{"field":"x","type":"quantitative"},"y":{"field":"y","type":"quantitative"},"text":{"field":"t"}}},
   {"data":{"name":"e_txt"},"transform":[{"filter":"datum.g == 'gene'"}],"mark":{"type":"text","fontWeight":"bold","fontStyle":"italic","fontSize":11,"align":"left","baseline":"middle"},"encoding":{"x":{"field":"x","type":"quantitative"},"y":{"field":"y","type":"quantitative"},"text":{"field":"t"}}},
   {"data":{"name":"e_txt"},"transform":[{"filter":"datum.g == 'letter'"}],"mark":{"type":"text","fontWeight":"bold","fontSize":20,"align":"left","baseline":"alphabetic"},"encoding":{"x":{"field":"x","type":"quantitative"},"y":{"field":"y","type":"quantitative"},"text":{"field":"t"}}}
  ]},
  {"width":223,"height":1,"data":{"values":[{}]},"mark":{"type":"point","size":0,"opacity":0}},
  {"width":216,"height":201,"view":{"stroke":"#000","strokeWidth":1.5},"layer":[
   {"data":{"name":"f_bar"},"mark":{"type":"bar","width":24,"color":"#000"},"encoding":{"x":{"field":"x","type":"quantitative","scale":{"domain":[0.5,6.53],"nice":false,"zero":false},"axis":{"values":[1,2,3,4,5,6],"labels":false,"title":null,"tickSize":5}},"y":{"field":"v","type":"quantitative","scale":{"domain":[0,1.5],"nice":false},"axis":{"values":[0,0.5,1,1.5],"format":".1f","labelFontSize":16,"title":"Relative colony formation","titleFontSize":16,"titleFontWeight":"bold","titlePadding":7}}}},
   {"data":{"name":"f_bar"},"mark":{"type":"rule","color":"#000","strokeWidth":1.5},"encoding":{"x":{"field":"x","type":"quantitative"},"y":{"field":"v","type":"quantitative"},"y2":{"field":"hi"}}},
   {"data":{"name":"f_bar"},"mark":{"type":"tick","orient":"horizontal","size":12,"thickness":1.5,"color":"#000","opacity":1},"encoding":{"x":{"field":"x","type":"quantitative"},"y":{"field":"hi","type":"quantitative"}}},
   {"data":{"name":"f_br"},"mark":{"type":"rule","color":"#000","strokeWidth":1.5},"encoding":{"x":{"field":"x1","type":"quantitative"},"x2":{"field":"x2"},"y":{"field":"y","type":"quantitative"}}},
   {"data":{"name":"f_br"},"mark":{"type":"rule","color":"#000","strokeWidth":1.5},"encoding":{"x":{"field":"x1","type":"quantitative"},"y":{"field":"y","type":"quantitative"},"y2":{"field":"y0"}}},
   {"data":{"name":"f_br"},"mark":{"type":"rule","color":"#000","strokeWidth":1.5},"encoding":{"x":{"field":"x2","type":"quantitative"},"y":{"field":"y","type":"quantitative"},"y2":{"field":"y0"}}},
   {"data":{"name":"f_br"},"transform":[{"filter":"datum.t == 'n.s.'"}],"mark":{"type":"text","fontWeight":"bold","fontSize":15,"baseline":"alphabetic","dy":-4},"encoding":{"x":{"field":"xm","type":"quantitative"},"y":{"field":"y","type":"quantitative"},"text":{"field":"t"}}},
   {"data":{"name":"f_br"},"transform":[{"filter":"datum.t != 'n.s.'"}],"mark":{"type":"text","fontWeight":"bold","fontSize":14,"baseline":"alphabetic","dy":3},"encoding":{"x":{"field":"xm","type":"quantitative"},"y":{"field":"y","type":"quantitative"},"text":{"field":"t"}}},
   {"data":{"name":"f_ul"},"mark":{"type":"rule","color":"#808080","strokeWidth":1},"encoding":{"x":{"field":"x1","type":"quantitative"},"x2":{"field":"x2"},"y":{"field":"y","type":"quantitative"}}},
   {"data":{"name":"f_txt"},"transform":[{"filter":"datum.g == 'sym'"}],"mark":{"type":"text","fontWeight":"bold","fontSize":18,"align":"center","baseline":"middle"},"encoding":{"x":{"field":"x","type":"quantitative"},"y":{"field":"y","type":"quantitative"},"text":{"field":"t"}}},
   {"data":{"name":"f_txt"},"transform":[{"filter":"datum.g == 'name'"}],"mark":{"type":"text","fontWeight":"bold","fontSize":12,"align":"left","baseline":"middle"},"encoding":{"x":{"field":"x","type":"quantitative"},"y":{"field":"y","type":"quantitative"},"text":{"field":"t"}}},
   {"data":{"name":"f_txt"},"transform":[{"filter":"datum.g == 'grp'"}],"mark":{"type":"text","fontWeight":"bold","fontSize":11,"align":"center","baseline":"middle"},"encoding":{"x":{"field":"x","type":"quantitative"},"y":{"field":"y","type":"quantitative"},"text":{"field":"t"}}},
   {"data":{"name":"f_txt"},"transform":[{"filter":"datum.g == 'sh'"}],"mark":{"type":"text","fontWeight":"bold","fontSize":11,"align":"right","baseline":"middle"},"encoding":{"x":{"field":"x","type":"quantitative"},"y":{"field":"y","type":"quantitative"},"text":{"field":"t"}}},
   {"data":{"name":"f_txt"},"transform":[{"filter":"datum.g == 'gene'"}],"mark":{"type":"text","fontWeight":"bold","fontStyle":"italic","fontSize":11,"align":"left","baseline":"middle"},"encoding":{"x":{"field":"x","type":"quantitative"},"y":{"field":"y","type":"quantitative"},"text":{"field":"t"}}},
   {"data":{"name":"f_txt"},"transform":[{"filter":"datum.g == 'letter'"}],"mark":{"type":"text","fontWeight":"bold","fontSize":20,"align":"left","baseline":"alphabetic"},"encoding":{"x":{"field":"x","type":"quantitative"},"y":{"field":"y","type":"quantitative"},"text":{"field":"t"}}}
  ]}
 ]},
 {"spacing": 0, "bounds": "flush", "hconcat": [
  {"width":56,"height":1,"data":{"values":[{}]},"mark":{"type":"point","size":0,"opacity":0},"encoding":{"y":{"datum":31,"type":"quantitative","scale":{"domain":[0,1],"nice":false},"axis":null}}},
  {"width":280,"height":185,"view":{"stroke":"#000","strokeWidth":1.5},"layer":[
   {"data":{"name":"g_bar"},"mark":{"type":"bar","width":22,"color":"#000"},"encoding":{"x":{"field":"x","type":"quantitative","scale":{"domain":[0.48,8.51],"nice":false,"zero":false},"axis":{"values":[1,2,3,4,5,6,7,8],"labels":false,"title":null,"tickSize":5}},"y":{"field":"v","type":"quantitative","scale":{"domain":[0,1.5],"nice":false},"axis":{"values":[0,0.5,1,1.5],"format":".1f","labelFontSize":13,"title":"Relative cell number","titleFontSize":15,"titleFontWeight":"normal","titlePadding":4}}}},
   {"data":{"name":"g_bar"},"mark":{"type":"rule","color":"#000","strokeWidth":1.5},"encoding":{"x":{"field":"x","type":"quantitative"},"y":{"field":"v","type":"quantitative"},"y2":{"field":"hi"}}},
   {"data":{"name":"g_bar"},"mark":{"type":"tick","orient":"horizontal","size":10,"thickness":1.5,"color":"#000","opacity":1},"encoding":{"x":{"field":"x","type":"quantitative"},"y":{"field":"hi","type":"quantitative"}}},
   {"data":{"name":"g_br"},"mark":{"type":"rule","color":"#000","strokeWidth":1.5},"encoding":{"x":{"field":"x1","type":"quantitative"},"x2":{"field":"x2"},"y":{"field":"y","type":"quantitative"}}},
   {"data":{"name":"g_br"},"mark":{"type":"rule","color":"#000","strokeWidth":1.5},"encoding":{"x":{"field":"x1","type":"quantitative"},"y":{"field":"y","type":"quantitative"},"y2":{"field":"y0"}}},
   {"data":{"name":"g_br"},"mark":{"type":"rule","color":"#000","strokeWidth":1.5},"encoding":{"x":{"field":"x2","type":"quantitative"},"y":{"field":"y","type":"quantitative"},"y2":{"field":"y0"}}},
   {"data":{"name":"g_br"},"transform":[{"filter":"datum.t == 'n.s.'"}],"mark":{"type":"text","fontWeight":"bold","fontSize":15,"baseline":"alphabetic","dy":-4},"encoding":{"x":{"field":"xm","type":"quantitative"},"y":{"field":"y","type":"quantitative"},"text":{"field":"t"}}},
   {"data":{"name":"g_br"},"transform":[{"filter":"datum.t != 'n.s.'"}],"mark":{"type":"text","fontWeight":"bold","fontSize":14,"baseline":"alphabetic","dy":3},"encoding":{"x":{"field":"xm","type":"quantitative"},"y":{"field":"y","type":"quantitative"},"text":{"field":"t"}}},
   {"data":{"name":"g_ul"},"mark":{"type":"rule","color":"#808080","strokeWidth":1},"encoding":{"x":{"field":"x1","type":"quantitative"},"x2":{"field":"x2"},"y":{"field":"y","type":"quantitative"}}},
   {"data":{"name":"g_txt"},"transform":[{"filter":"datum.g == 'sym'"}],"mark":{"type":"text","fontWeight":"bold","fontSize":15,"align":"center","baseline":"middle"},"encoding":{"x":{"field":"x","type":"quantitative"},"y":{"field":"y","type":"quantitative"},"text":{"field":"t"}}},
   {"data":{"name":"g_txt"},"transform":[{"filter":"datum.g == 'name'"}],"mark":{"type":"text","fontWeight":"bold","fontSize":14,"align":"left","baseline":"middle"},"encoding":{"x":{"field":"x","type":"quantitative"},"y":{"field":"y","type":"quantitative"},"text":{"field":"t"}}},
   {"data":{"name":"g_txt"},"transform":[{"filter":"datum.g == 'sh'"}],"mark":{"type":"text","fontWeight":"bold","fontSize":14,"align":"right","baseline":"middle"},"encoding":{"x":{"field":"x","type":"quantitative"},"y":{"field":"y","type":"quantitative"},"text":{"field":"t"}}},
   {"data":{"name":"g_txt"},"transform":[{"filter":"datum.g == 'gene'"}],"mark":{"type":"text","fontWeight":"bold","fontStyle":"italic","fontSize":14,"align":"left","baseline":"middle"},"encoding":{"x":{"field":"x","type":"quantitative"},"y":{"field":"y","type":"quantitative"},"text":{"field":"t"}}},
   {"data":{"name":"g_txt"},"transform":[{"filter":"datum.g == 'letter'"}],"mark":{"type":"text","fontWeight":"bold","fontSize":20,"align":"left","baseline":"alphabetic"},"encoding":{"x":{"field":"x","type":"quantitative"},"y":{"field":"y","type":"quantitative"},"text":{"field":"t"}}}
  ]},
  {"width":179,"height":1,"data":{"values":[{}]},"mark":{"type":"point","size":0,"opacity":0}},
  {"width":266,"height":181,"view":{"stroke":"#000","strokeWidth":1.5},"layer":[
   {"data":{"name":"h_bar"},"mark":{"type":"bar","width":21,"color":"#000"},"encoding":{"x":{"field":"x","type":"quantitative","scale":{"domain":[0.46,8.39],"nice":false,"zero":false},"axis":{"values":[1,2,3,4,5,6,7,8],"labels":false,"title":null,"tickSize":5}},"y":{"field":"v","type":"quantitative","scale":{"domain":[0,1.5],"nice":false},"axis":{"values":[0,0.5,1,1.5],"format":".1f","labelFontSize":14,"title":"Relative colony formation","titleFontSize":14.5,"titleFontWeight":"bold","titlePadding":4}}}},
   {"data":{"name":"h_bar"},"mark":{"type":"rule","color":"#000","strokeWidth":1.5},"encoding":{"x":{"field":"x","type":"quantitative"},"y":{"field":"v","type":"quantitative"},"y2":{"field":"hi"}}},
   {"data":{"name":"h_bar"},"mark":{"type":"tick","orient":"horizontal","size":10,"thickness":1.5,"color":"#000","opacity":1},"encoding":{"x":{"field":"x","type":"quantitative"},"y":{"field":"hi","type":"quantitative"}}},
   {"data":{"name":"h_br"},"mark":{"type":"rule","color":"#000","strokeWidth":1.5},"encoding":{"x":{"field":"x1","type":"quantitative"},"x2":{"field":"x2"},"y":{"field":"y","type":"quantitative"}}},
   {"data":{"name":"h_br"},"mark":{"type":"rule","color":"#000","strokeWidth":1.5},"encoding":{"x":{"field":"x1","type":"quantitative"},"y":{"field":"y","type":"quantitative"},"y2":{"field":"y0"}}},
   {"data":{"name":"h_br"},"mark":{"type":"rule","color":"#000","strokeWidth":1.5},"encoding":{"x":{"field":"x2","type":"quantitative"},"y":{"field":"y","type":"quantitative"},"y2":{"field":"y0"}}},
   {"data":{"name":"h_br"},"transform":[{"filter":"datum.t == 'n.s.'"}],"mark":{"type":"text","fontWeight":"bold","fontSize":15,"baseline":"alphabetic","dy":-4},"encoding":{"x":{"field":"xm","type":"quantitative"},"y":{"field":"y","type":"quantitative"},"text":{"field":"t"}}},
   {"data":{"name":"h_br"},"transform":[{"filter":"datum.t != 'n.s.'"}],"mark":{"type":"text","fontWeight":"bold","fontSize":14,"baseline":"alphabetic","dy":3},"encoding":{"x":{"field":"xm","type":"quantitative"},"y":{"field":"y","type":"quantitative"},"text":{"field":"t"}}},
   {"data":{"name":"h_ul"},"mark":{"type":"rule","color":"#808080","strokeWidth":1},"encoding":{"x":{"field":"x1","type":"quantitative"},"x2":{"field":"x2"},"y":{"field":"y","type":"quantitative"}}},
   {"data":{"name":"h_txt"},"transform":[{"filter":"datum.g == 'sym'"}],"mark":{"type":"text","fontWeight":"bold","fontSize":15,"align":"center","baseline":"middle"},"encoding":{"x":{"field":"x","type":"quantitative"},"y":{"field":"y","type":"quantitative"},"text":{"field":"t"}}},
   {"data":{"name":"h_txt"},"transform":[{"filter":"datum.g == 'name'"}],"mark":{"type":"text","fontWeight":"bold","fontSize":11.5,"align":"left","baseline":"middle"},"encoding":{"x":{"field":"x","type":"quantitative"},"y":{"field":"y","type":"quantitative"},"text":{"field":"t"}}},
   {"data":{"name":"h_txt"},"transform":[{"filter":"datum.g == 'grp'"}],"mark":{"type":"text","fontWeight":"bold","fontSize":11.5,"align":"center","baseline":"middle"},"encoding":{"x":{"field":"x","type":"quantitative"},"y":{"field":"y","type":"quantitative"},"text":{"field":"t"}}},
   {"data":{"name":"h_txt"},"transform":[{"filter":"datum.g == 'sh'"}],"mark":{"type":"text","fontWeight":"bold","fontSize":11.5,"align":"right","baseline":"middle"},"encoding":{"x":{"field":"x","type":"quantitative"},"y":{"field":"y","type":"quantitative"},"text":{"field":"t"}}},
   {"data":{"name":"h_txt"},"transform":[{"filter":"datum.g == 'gene'"}],"mark":{"type":"text","fontWeight":"bold","fontStyle":"italic","fontSize":11.5,"align":"left","baseline":"middle"},"encoding":{"x":{"field":"x","type":"quantitative"},"y":{"field":"y","type":"quantitative"},"text":{"field":"t"}}},
   {"data":{"name":"h_txt"},"transform":[{"filter":"datum.g == 'letter'"}],"mark":{"type":"text","fontWeight":"bold","fontSize":20,"align":"left","baseline":"alphabetic"},"encoding":{"x":{"field":"x","type":"quantitative"},"y":{"field":"y","type":"quantitative"},"text":{"field":"t"}}}
  ]}
 ]}
]
}
